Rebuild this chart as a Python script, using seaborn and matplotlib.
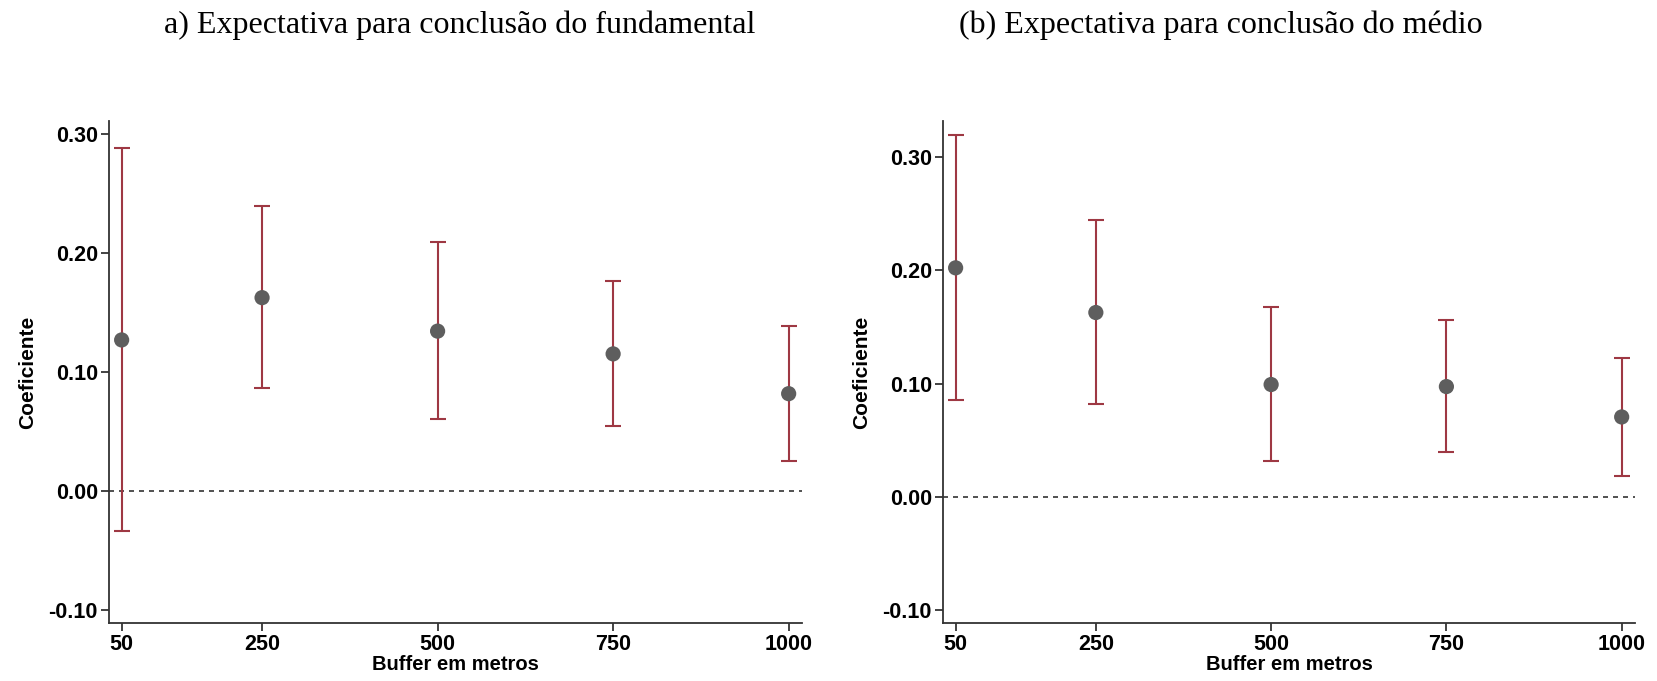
import numpy as np
import pandas as pd
import seaborn as sns
import matplotlib.pyplot as plt

buffers = [50, 250, 500, 750, 1000]

# painel a) fundamental
coef_fund = [0.127, 0.1625, 0.1344, 0.1153, 0.0819]
lo_fund = [-0.0334, 0.0870, 0.0603, 0.0550, 0.0255]
hi_fund = [0.2879, 0.2391, 0.2090, 0.1762, 0.1386]

# painel b) medio
coef_med = [0.2021, 0.1627, 0.0992, 0.0974, 0.0706]
lo_med = [0.0853, 0.0818, 0.0321, 0.0395, 0.0185]
hi_med = [0.3195, 0.2442, 0.1672, 0.1557, 0.1230]

titles = ["a) Expectativa para conclusão do fundamental",
          "(b) Expectativa para conclusão do médio"]
yticks = [-0.10, 0.00, 0.10, 0.20, 0.30]

sns.set_style("white")
plt.rcParams['font.family'] = ['Liberation Sans', 'DejaVu Sans']

point_color = "#5e5e5e"
bar_color = "#9e3843"

fig = plt.figure(figsize=(16.57, 6.81), dpi=100)
ax1 = fig.add_axes([109 / 1657, 0.085, 693 / 1657, 0.737])
ax2 = fig.add_axes([943 / 1657, 0.085, 692 / 1657, 0.737])

panels = [
    (ax1, coef_fund, lo_fund, hi_fund, (-0.1107, 0.3106)),
    (ax2, coef_med, lo_med, hi_med, (-0.1112, 0.3314)),
]

for ax, coef, lo, hi, ylim in panels:
    df = pd.DataFrame({"buffer": buffers, "coef": coef, "lo": lo, "hi": hi})
    err = np.vstack([df["coef"] - df["lo"], df["hi"] - df["coef"]])
    ax.errorbar(df["buffer"], df["coef"], yerr=err, fmt="none",
                ecolor=bar_color, elinewidth=1.5, capsize=5.5, capthick=1.5, zorder=2)
    sns.scatterplot(data=df, x="buffer", y="coef", ax=ax, color=point_color,
                    s=120, edgecolor="none", zorder=3, legend=False)
    ax.axhline(0, color="#333333", linestyle=(0, (3, 3)), linewidth=1.2, zorder=1)

    ax.set_xlim(32, 1019)
    ax.set_ylim(*ylim)
    ax.set_xticks(buffers)
    ax.set_xticklabels([str(b) for b in buffers])
    ax.set_yticks(yticks)
    ax.set_yticklabels([f"{t:.2f}" for t in yticks])
    ax.tick_params(axis="both", which="major", bottom=True, left=True,
                   direction="out", length=6, width=1.2, color="#222222",
                   labelsize=15.5, labelcolor="black", pad=2)
    for lab in ax.get_xticklabels() + ax.get_yticklabels():
        lab.set_fontweight("bold")
    sns.despine(ax=ax)
    for side in ["left", "bottom"]:
        ax.spines[side].set_linewidth(1.3)
        ax.spines[side].set_color("#333333")
    ax.set_xlabel("Buffer em metros", fontsize=14.5, fontweight="bold",
                  color="black", labelpad=0)
    ax.set_ylabel("Coeficiente", fontsize=15, fontweight="bold",
                  color="black", labelpad=8)

fig.text(460 / 1657, 1 - 25 / 681, titles[0], ha="center", va="center",
         fontsize=23, family="Liberation Serif", color="black")
fig.text(1221 / 1657, 1 - 25 / 681, titles[1], ha="center", va="center",
         fontsize=23, family="Liberation Serif", color="black")

fig.savefig("out.png", dpi=100)
